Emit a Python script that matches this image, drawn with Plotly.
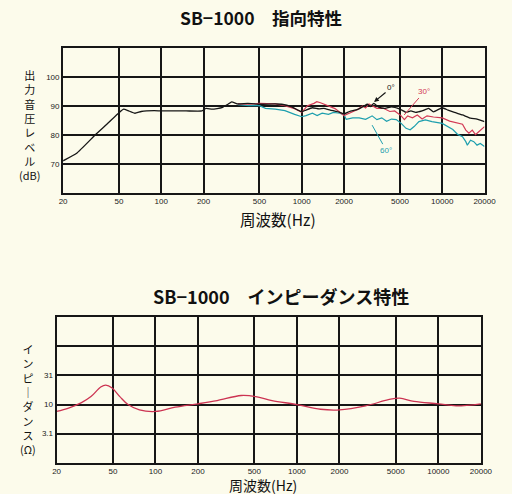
import plotly.graph_objects as go

# ---------------- data ----------------
freq_ticks = [20, 50, 100, 200, 500, 1000, 2000, 5000, 10000, 20000]
freq_tick_text = ["20", "50", "100", "200", "500", "1000", "2000", "5000", "10000", "20000"]

spl_tickvals = [60, 70, 80, 90, 100, 110]
spl_ticktext = ["", "70", "80", "90", "100", ""]

imp_tickvals = [1, 3.162, 10, 31.62, 100, 316.2]
imp_ticktext = ["", "3.1", "10", "31", "", ""]

# 0 degree (black)
f0 = [20, 25, 34, 42, 50, 54, 58, 65, 72, 89, 100, 150, 195, 208, 231, 270, 300, 317, 352, 413,
      500, 647, 719, 843, 938, 1000, 1072, 1191, 1325, 1433, 1594, 1867, 2000, 2187, 2500, 2780,
      2930, 3090, 3257, 3526, 3919, 4357, 5000, 5525, 5984, 6474, 7194, 7999, 8664, 10000,
      10990, 12220, 13940, 15910, 17690, 20000]
db0 = [71.0, 73.6, 80.0, 84.1, 87.6, 88.8, 88.3, 87.4, 88.0, 88.3, 88.2, 88.2, 88.2, 89.1, 88.8,
       89.3, 90.6, 91.3, 90.6, 90.8,
       90.5, 90.6, 90.5, 89.7, 88.5, 87.9, 88.5, 89.3, 88.9, 89.1, 88.5, 87.7, 87.2, 88.0, 88.7, 89.9,
       90.5, 89.7, 90.8, 89.5, 89.1, 89.6, 88.8, 87.7, 88.2, 87.7, 88.2, 89.1, 87.9, 89.3,
       88.5, 87.7, 86.8, 85.7, 85.4, 84.5]

# 30 degree (red)
f30 = [350, 420, 500, 647, 755, 890, 1000, 1099, 1222, 1280, 1360, 1511, 1725, 2000, 2245, 2500,
       2706, 2850, 3010, 3257, 3428, 3810, 4239, 4589, 5105, 5380, 5673, 6140, 6650, 7194, 7800,
       8664, 10000, 11300, 12560, 13940, 14720, 15490, 16370, 17250, 18200, 20000]
db30 = [90.6, 90.5, 90.8, 90.6, 90.0, 89.0, 87.7, 90.0, 90.8, 91.4, 91.0, 90.2, 89.0, 86.6, 87.8,
        88.7, 89.9, 89.2, 90.6, 89.8, 89.1, 89.1, 88.0, 88.2, 86.5, 85.2, 86.5, 85.8, 86.8, 85.4,
        86.5, 86.1, 85.8, 84.7, 84.1, 83.6, 81.6, 80.5, 81.6, 80.0, 81.0, 82.8]

# 60 degree (cyan)
f60 = [350, 420, 500, 552, 647, 759, 890, 1000, 1072, 1191, 1287, 1397, 1550, 1679, 1867, 2000,
       2074, 2306, 2563, 2850, 3090, 3170, 3428, 3713, 4018, 4357, 4708, 5105, 5525, 5916, 6310,
       6826, 7586, 8450, 10000, 10990, 11900, 12880, 13940, 14720, 15100, 15910, 16790, 17690,
       18660, 20000]
db60 = [90.4, 90.0, 90.0, 89.1, 88.8, 88.3, 87.0, 86.2, 86.6, 87.4, 86.6, 87.4, 87.0, 87.7, 87.4,
        86.8, 85.3, 85.8, 85.8, 85.3, 86.2, 86.5, 85.2, 85.8, 84.6, 85.4, 85.2, 83.9, 82.2, 81.7,
        82.8, 84.5, 85.1, 84.5, 83.9, 82.8, 81.8, 80.1, 79.3, 77.6, 76.4, 78.1, 77.6, 76.4, 77.0,
        75.9]

# impedance (ohm)
f_imp = [20, 24.3, 30, 35, 41, 44.5, 49.4, 56, 64, 77, 100, 138, 200, 273, 404, 512, 667, 1000,
         1470, 2000, 3060, 4430, 5320, 6730, 10000, 13360, 20000]
ohm = [7.6, 8.7, 10.8, 13.7, 20.0, 21.6, 19.2, 13.7, 10.0, 8.1, 7.6, 9.0, 10.3, 11.7, 14.3, 13.7,
       11.7, 10.0, 8.3, 8.1, 9.5, 12.1, 12.9, 11.3, 10.3, 9.5, 10.3]

title1 = "SB−1000　指向特性"
title2 = "SB−1000　インピーダンス特性"
xlabel = "周波数(Hz)"
ylabel1 = ["出", "力", "音", "圧", "レ", "ベ", "ル", "(dB)"]
ylabel2 = ["イ", "ン", "ピ", "｜", "ダ", "ン", "ス", "(Ω)"]

# ---------------- figure ----------------
W, H = 512, 494
BG = "#fcfbeb"
BLACK = "#161616"
RED = "#d23a55"
CYAN = "#1e9fae"
IMP = "#cc3352"


def px(x):
    return x / W


def py(y):
    return 1 - y / H


fig = go.Figure()
fig.add_trace(go.Scatter(x=f60, y=db60, mode="lines", line=dict(color=CYAN, width=1.2),
                         xaxis="x", yaxis="y", showlegend=False))
fig.add_trace(go.Scatter(x=f30, y=db30, mode="lines", line=dict(color=RED, width=1.2),
                         xaxis="x", yaxis="y", showlegend=False))
fig.add_trace(go.Scatter(x=f0, y=db0, mode="lines", line=dict(color=BLACK, width=1.3, shape="spline", smoothing=0.4),
                         xaxis="x", yaxis="y", showlegend=False))
fig.add_trace(go.Scatter(x=f_imp, y=ohm, mode="lines", line=dict(color=IMP, width=1.3, shape="spline"),
                         xaxis="x2", yaxis="y2", showlegend=False))

axis_common = dict(showline=True, mirror=True, linecolor=BLACK, linewidth=2,
                   showgrid=True, gridcolor=BLACK, gridwidth=1.6, zeroline=False, ticks="",
                   tickfont=dict(family="Liberation Sans", size=8, color="#222"))

fig.update_layout(
    width=W, height=H,
    margin=dict(l=0, r=0, t=0, b=0),
    paper_bgcolor=BG, plot_bgcolor=BG,
    xaxis=dict(type="log", range=[1.30103, 4.30103], tickvals=freq_ticks, ticktext=freq_tick_text,
               domain=[px(61), px(496)], anchor="y", **axis_common),
    yaxis=dict(range=[60, 110], tickvals=spl_tickvals, ticktext=spl_ticktext,
               domain=[py(192.7), py(47.7)], anchor="x", **axis_common),
    xaxis2=dict(type="log", range=[1.30103, 4.30103], tickvals=freq_ticks, ticktext=freq_tick_text,
                domain=[px(54.3), px(492.3)], anchor="y2", **axis_common),
    yaxis2=dict(type="log", range=[0, 2.5], tickvals=imp_tickvals, ticktext=imp_ticktext,
                domain=[py(462.7), py(317.3)], anchor="x2", **axis_common),
)

ann = []
title_font = dict(family="Noto Sans CJK JP", size=17.5, color="#111")
ann.append(dict(text="<b>" + title1 + "</b>", x=px(265), y=py(17), xref="paper", yref="paper",
                showarrow=False, font=title_font, xanchor="center", yanchor="middle"))
ann.append(dict(text="<b>" + title2 + "</b>", x=px(286), y=py(296), xref="paper", yref="paper",
                showarrow=False, font=dict(family="Noto Sans CJK JP", size=18, color="#111"),
                xanchor="center", yanchor="middle"))
lab_font = dict(family="Noto Sans CJK JP", size=15.5, color="#111")
ann.append(dict(text=xlabel, x=px(283), y=py(219), xref="paper", yref="paper",
                showarrow=False, font=lab_font, xanchor="center", yanchor="middle"))
ann.append(dict(text=xlabel, x=px(267), y=py(485), xref="paper", yref="paper",
                showarrow=False, font=dict(family="Noto Sans CJK JP", size=14, color="#111"),
                xanchor="center", yanchor="middle"))

vfont = dict(family="Noto Sans CJK JP", size=11, color="#111")
ann.append(dict(text="<br>".join(ylabel1), x=px(26), y=py(125), xref="paper", yref="paper",
                showarrow=False, font=vfont, xanchor="center", yanchor="middle", align="center"))
ann.append(dict(text="<br>".join(ylabel2), x=px(25), y=py(399), xref="paper", yref="paper",
                showarrow=False, font=vfont, xanchor="center", yanchor="middle", align="center"))

# curve labels
ann.append(dict(text="0°", x=3.515, y=91.3, xref="x", yref="y", ax=17, ay=-14,
                showarrow=True, arrowhead=2, arrowsize=0.8, arrowwidth=1.2, arrowcolor=BLACK,
                font=dict(family="Liberation Sans", size=8, color=BLACK)))
ann.append(dict(text="30°", x=3.729, y=86.8, xref="x", yref="y", ax=20, ay=-23,
                showarrow=True, arrowhead=0, arrowwidth=1, arrowcolor=RED,
                font=dict(family="Liberation Sans", size=8, color=RED)))
ann.append(dict(text="60°", x=3.501, y=83.3, xref="x", yref="y", ax=14, ay=25,
                showarrow=True, arrowhead=0, arrowwidth=1, arrowcolor=CYAN,
                font=dict(family="Liberation Sans", size=8, color=CYAN)))

fig.update_layout(annotations=ann)
fig.write_html("out.html")
